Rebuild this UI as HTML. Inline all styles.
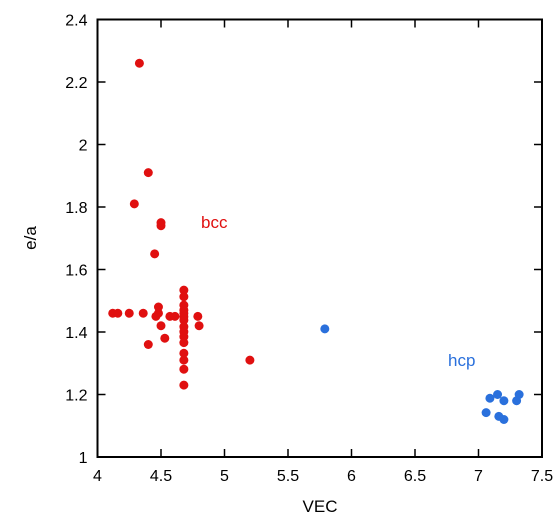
<!DOCTYPE html>
<html><head><meta charset="utf-8"><style>body{margin:0;background:#fff}svg{display:block;font-family:"Liberation Sans",sans-serif}</style></head>
<body>
<svg id="c" width="555" height="518"></svg>
<script>
const bccX=[4.33,4.40,4.29,4.50,4.50,4.45,4.12,4.16,4.25,4.36,4.48,4.46,4.57,4.61,4.79,4.48,4.50,4.80,4.53,4.40,4.68,4.68,4.68,4.68,4.68,4.68,4.68,4.68,4.68,4.68,4.68,4.68,4.68,4.68,4.68,5.20];
const bccY=[2.26,1.91,1.81,1.75,1.74,1.65,1.46,1.46,1.46,1.46,1.46,1.45,1.45,1.45,1.45,1.48,1.42,1.42,1.38,1.36,1.534,1.513,1.486,1.47,1.46,1.449,1.438,1.417,1.401,1.385,1.366,1.332,1.31,1.281,1.23,1.31];
const hcpX=[5.79,7.09,7.15,7.20,7.30,7.32,7.06,7.16,7.20];
const hcpY=[1.41,1.188,1.20,1.18,1.18,1.20,1.142,1.13,1.12];
const xTicks=[4,4.5,5,5.5,6,6.5,7,7.5];
const xTickLabels=["4","4.5","5","5.5","6","6.5","7","7.5"];
const yTicks=[1,1.2,1.4,1.6,1.8,2,2.2,2.4];
const yTickLabels=["1","1.2","1.4","1.6","1.8","2","2.2","2.4"];
const L=97.5,R=542,T=19.5,B=457;
const sx=v=>L+(v-4)/3.5*(R-L), sy=v=>B-(v-1)/1.4*(B-T);
const s=document.getElementById('c'),NS='http://www.w3.org/2000/svg';
function mk(t,a,txt){const e=document.createElementNS(NS,t);for(const k in a)e.setAttribute(k,a[k]);if(txt!=null)e.textContent=txt;s.appendChild(e);return e;}
let e=mk('rect',{x:L,y:T,width:R-L,height:B-T,fill:'none',stroke:'#000','stroke-width':2});


xTicks.forEach((v,i)=>{
 let t=mk('line',{x1:sx(v),x2:sx(v),y1:B,y2:B-8,stroke:'#000','stroke-width':1.5});
 
 
 let l=mk('text',{x:sx(v),y:B+24,'text-anchor':'middle','font-size':16},xTickLabels[i]);
 
 
});
yTicks.forEach((v,i)=>{
 let t=mk('line',{x1:L,x2:L+8,y1:sy(v),y2:sy(v),stroke:'#000','stroke-width':1.5});
 
 
 let t2=mk('line',{x1:R,x2:R-8,y1:sy(v),y2:sy(v),stroke:'#000','stroke-width':1.5});
 
 
 let l=mk('text',{x:L-10,y:sy(v)+6,'text-anchor':'end','font-size':16},yTickLabels[i]);
 
 
});
xTicks.forEach(v=>{let t=mk('line',{x1:sx(v),x2:sx(v),y1:T,y2:T+8,stroke:'#000','stroke-width':1.5});
 
 });
e=mk('text',{x:320,y:512,'text-anchor':'middle','font-size':17},'VEC');


e=mk('text',{x:36,y:238,'text-anchor':'middle','font-size':17,transform:'rotate(-90 36 238)'},'e/a');


bccX.forEach((v,i)=>{let c=mk('circle',{cx:sx(v),cy:sy(bccY[i]),r:4.5,fill:'#e01010'});
 
 });
hcpX.forEach((v,i)=>{let c=mk('circle',{cx:sx(v),cy:sy(hcpY[i]),r:4.5,fill:'#2a70dc'});
 
 });
e=mk('text',{x:201,y:228,'font-size':17,fill:'#e01010'},'bcc');


e=mk('text',{x:448,y:366,'font-size':17,fill:'#2a70dc'},'hcp');


</script>
</body></html>
